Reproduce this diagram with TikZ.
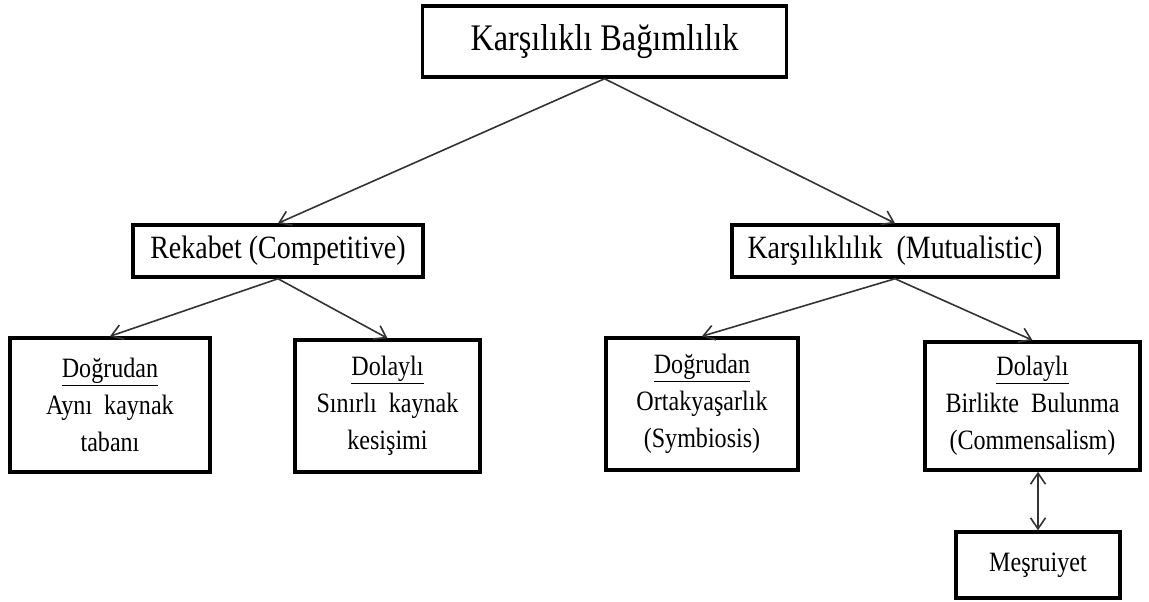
\documentclass[tikz,border=0pt]{standalone}
\usepackage{fontspec}
\setmainfont{Liberation Serif}[FakeStretch=0.86]
\usetikzlibrary{arrows.meta}

\tikzset{
  barb/.tip={Straight Barb[length=11pt,width=15pt,line width=1.6pt]},
  box/.style={draw=black, line width=3.5pt, fill=white, inner sep=0pt, align=center},
  link/.style={draw=black!80, line width=1.6pt, -barb},
  twoway/.style={draw=black!80, line width=1.6pt, barb-barb},
  biglabel/.style={font=\fontsize{37.5}{44}\selectfont},
  midlabel/.style={font=\fontsize{32.5}{40}\selectfont},
  smalllabel/.style={font=\fontsize{28}{37}\selectfont},
}

\begin{document}
\begin{tikzpicture}[x=1pt,y=-1pt]
  \useasboundingbox (0,0) rectangle (1149,602);

  % root
  \node[box, biglabel, minimum width=364pt, minimum height=71pt]
    (root) at (604.5,41.5) {Karşılıklı Bağımlılık};

  % second level
  \node[box, midlabel, minimum width=290pt, minimum height=52pt]
    (rek) at (278,251) {Rekabet (Competitive)};
  \node[box, midlabel, minimum width=326pt, minimum height=52pt]
    (kar) at (895,251) {Karşılıklılık\ \ (Mutualistic)};

  % third level
  \node[box, smalllabel, minimum width=200pt, minimum height=134pt]
    (dogL) at (110,405) {\underline{Doğrudan}\\Aynı\ \ kaynak\\tabanı};
  \node[box, smalllabel, minimum width=185pt, minimum height=132pt]
    (dolL) at (387.5,406) {\underline{Dolaylı}\\Sınırlı\ \ kaynak\\kesişimi};
  \node[box, smalllabel, minimum width=192pt, minimum height=132pt]
    (dogR) at (702,404) {\underline{Doğrudan}\\Ortakyaşarlık\\(Symbiosis)};
  \node[box, smalllabel, minimum width=215pt, minimum height=128pt]
    (dolR) at (1032.5,406) {\underline{Dolaylı}\\Birlikte\ \ Bulunma\\(Commensalism)};

  % bottom
  \node[box, smalllabel, minimum width=164pt, minimum height=66pt]
    (mes) at (1038,565) {Meşruiyet};

  % connectors
  \draw[link] (root.south) -- (rek.north);
  \draw[link] (root.south) -- (kar.north);
  \draw[link] (rek.south) -- (dogL.north);
  \draw[link] (rek.south) -- (dolL.north);
  \draw[link] (kar.south) -- (dogR.north);
  \draw[link] (kar.south) -- (dolR.north);
  \draw[twoway] (mes.north |- dolR.south) -- (mes.north);
\end{tikzpicture}
\end{document}
